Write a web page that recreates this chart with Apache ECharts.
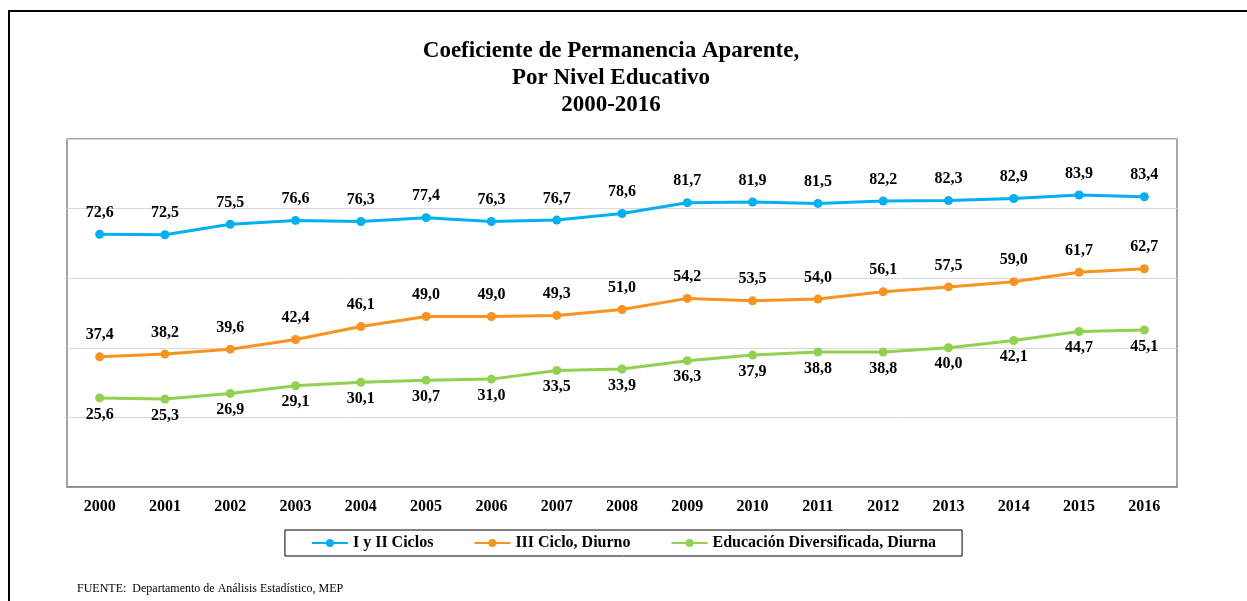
<!DOCTYPE html>
<html>
<head>
<meta charset="utf-8">
<script src="https://cdn.jsdelivr.net/npm/echarts@6/dist/echarts.min.js"></script>
<style>
  html, body { margin: 0; padding: 0; overflow: hidden; background: #fff; }
  #chart { width: 1247px; height: 601px; }
</style>
</head>
<body>
<div id="chart"></div>
<script>
var years = ['2000', '2001', '2002', '2003', '2004', '2005', '2006', '2007', '2008',
  '2009', '2010', '2011', '2012', '2013', '2014', '2015', '2016'];
var ciclosI_II = [72.6, 72.5, 75.5, 76.6, 76.3, 77.4, 76.3, 76.7, 78.6, 81.7, 81.9, 81.5, 82.2, 82.3, 82.9, 83.9, 83.4];
var cicloIII = [37.4, 38.2, 39.6, 42.4, 46.1, 49.0, 49.0, 49.3, 51.0, 54.2, 53.5, 54.0, 56.1, 57.5, 59.0, 61.7, 62.7];
var diversificada = [25.6, 25.3, 26.9, 29.1, 30.1, 30.7, 31.0, 33.5, 33.9, 36.3, 37.9, 38.8, 38.8, 40.0, 42.1, 44.7, 45.1];

var serif = '"Liberation Serif", "Times New Roman", serif';

var chart = echarts.init(document.getElementById('chart'));

function fmt(p) {
  return p.value.toFixed(1).replace('.', ',');
}

function makeSeries(name, data, color, pos) {
  return {
    name: name,
    type: 'line',
    data: data,
    symbol: 'circle',
    symbolSize: 9,
    lineStyle: { width: 3, color: color },
    itemStyle: { color: color },
    label: {
      show: true,
      position: pos,
      distance: pos === 'top' ? 9 : 4,
      formatter: fmt,
      color: '#000',
      fontFamily: serif,
      fontWeight: 'bold',
      fontSize: 16
    }
  };
}

var option = {
  animation: false,
  title: {
    text: 'Coeficiente de Permanencia Aparente,\nPor Nivel Educativo\n2000-2016',
    left: 606,
    top: 33,
    textAlign: 'center',
    textStyle: {
      fontFamily: serif,
      fontWeight: 'bold',
      fontSize: 23,
      lineHeight: 27,
      color: '#000'
    }
  },
  legend: {
    left: 'center',
    top: 530,
    itemWidth: 36,
    itemHeight: 10,
    itemGap: 40,
    padding: [5, 26, 5, 26],
    borderColor: '#000',
    borderWidth: 1,
    textStyle: {
      fontFamily: serif,
      fontWeight: 'bold',
      fontSize: 16,
      color: '#000'
    }
  },
  grid: {
    left: 67,
    right: 70,
    top: 139,
    bottom: 114,
    show: true,
    borderColor: '#888',
    borderWidth: 1.5
  },
  xAxis: {
    type: 'category',
    data: years,
    axisTick: { alignWithLabel: true, length: 5, lineStyle: { color: '#888' } },
    axisLine: { lineStyle: { color: '#888', width: 1.5 } },
    axisLabel: {
      margin: 12,
      color: '#000',
      fontFamily: serif,
      fontWeight: 'bold',
      fontSize: 16
    }
  },
  yAxis: {
    type: 'value',
    min: 0,
    max: 100,
    interval: 20,
    axisLabel: { show: false },
    axisLine: { show: false },
    axisTick: { show: false },
    splitLine: { lineStyle: { color: '#d9d9d9', width: 1 } }
  },
  graphic: [
    {
      type: 'rect',
      shape: { x: 9, y: 11, width: 1400, height: 800 },
      style: { fill: 'none', stroke: '#000', lineWidth: 2 },
      silent: true
    },
    {
      type: 'text',
      left: 77,
      top: 583,
      style: {
        text: 'FUENTE:  Departamento de Análisis Estadístico, MEP',
        fontFamily: serif,
        fontSize: 12,
        fill: '#000'
      }
    }
  ],
  series: [
    makeSeries('I y II Ciclos', ciclosI_II, '#00B0F0', 'top'),
    makeSeries('III Ciclo, Diurno', cicloIII, '#F7931E', 'top'),
    makeSeries('Educación Diversificada, Diurna', diversificada, '#92D050', 'bottom')
  ]
};

chart.setOption(option);
</script>
</body>
</html>
